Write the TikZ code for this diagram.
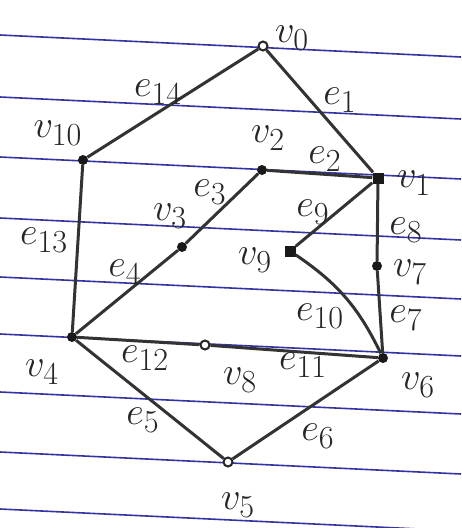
\documentclass[tikz,border=0pt]{standalone}
\begin{document}
\begin{tikzpicture}[x=1pt,y=-1pt,
  rule/.style={draw=blue!55!black!80, line width=1.6pt},
  edge/.style={draw=black!80, line width=3pt},
  odot/.style={circle, draw=black!85, line width=2pt, fill=white, inner sep=0pt, minimum size=9pt},
  fdot/.style={circle, fill=black!90, inner sep=0pt, minimum size=10pt},
  sdot/.style={rectangle, fill=black!90, inner sep=0pt, minimum size=11pt},
  lab/.style={font=\Huge, scale=1.55, text=black!85}]
\useasboundingbox (0,0) rectangle (461,528);
\fill[white] (0,0) rectangle (461,528);
\foreach \y in {35,97,157,218,277,334,392,452,509}
  \draw[rule] (0,\y) -- (461,\y+22);
% vertices
\node[odot] (v0) at (263,46) {};
\node[fdot] (v10) at (83,160) {};
\node[fdot] (v2) at (262,170) {};
\node[sdot] (v1) at (378,178) {};
\node[fdot] (v3) at (182,247) {};
\node[sdot] (v9) at (290,251) {};
\node[fdot] (v7) at (377,266) {};
\node[fdot] (v4) at (72,337) {};
\node[odot] (v8) at (205,345) {};
\node[fdot] (v6) at (383,358) {};
\node[odot] (v5) at (228,462) {};
% edges
\draw[edge] (v0) -- (v1);
\draw[edge] (v1) -- (v2);
\draw[edge] (v2) -- (v3);
\draw[edge] (v3) -- (v4);
\draw[edge] (v4) -- (v5);
\draw[edge] (v5) -- (v6);
\draw[edge] (v6) -- (v7);
\draw[edge] (v7) -- (v1);
\draw[edge] (v1) -- (v9);
\draw[edge] (v9) to[bend left=15] (v6);
\draw[edge] (v8) -- (v6);
\draw[edge] (v4) -- (v8);
\draw[edge] (v10) -- (v4);
\draw[edge] (v0) -- (v10);
% vertex labels
\node[lab] (lv0) at (292,38) {$v_0$};
\node[lab] (lv10) at (58,133) {$v_{10}$};
\node[lab] (lv2) at (268,138) {$v_2$};
\node[lab] (lv1) at (414,183) {$v_1$};
\node[lab] (lv3) at (170,216) {$v_3$};
\node[lab] (lv9) at (255,260) {$v_9$};
\node[lab] (lv7) at (410,272) {$v_7$};
\node[lab] (lv4) at (42,372) {$v_4$};
\node[lab] (lv8) at (240,380) {$v_8$};
\node[lab] (lv6) at (418,385) {$v_6$};
\node[lab] (lv5) at (238,505) {$v_5$};
% edge labels
\node[lab] (le14) at (158,92) {$e_{14}$};
\node[lab] (le1) at (340,100) {$e_1$};
\node[lab] (le2) at (325,159) {$e_2$};
\node[lab] (le3) at (210,192) {$e_3$};
\node[lab] (le4) at (125,272) {$e_4$};
\node[lab] (le13) at (44,240) {$e_{13}$};
\node[lab] (le9) at (313,212) {$e_9$};
\node[lab] (le8) at (406,230) {$e_8$};
\node[lab] (le7) at (406,318) {$e_7$};
\node[lab] (le10) at (320,316) {$e_{10}$};
\node[lab] (le11) at (303,365) {$e_{11}$};
\node[lab] (le12) at (145,358) {$e_{12}$};
\node[lab] (le5) at (143,420) {$e_5$};
\node[lab] (le6) at (318,436) {$e_6$};
\end{tikzpicture}
\end{document}
